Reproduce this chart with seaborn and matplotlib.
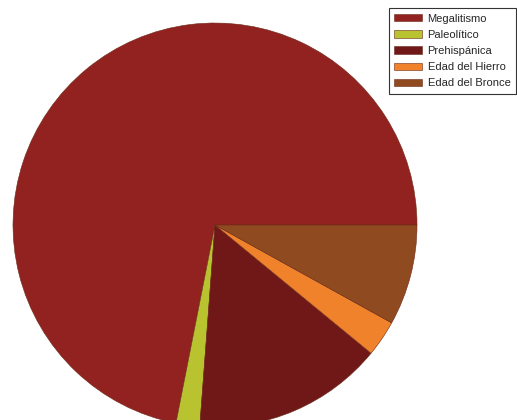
import matplotlib
matplotlib.use("Agg")
import matplotlib.pyplot as plt
import seaborn as sns

categories = ["Megalitismo", "Paleolítico", "Prehispánica", "Edad del Hierro", "Edad del Bronce"]
values = [71.9, 1.9, 15.25, 2.9, 8.05]
colors = ["#922220", "#b9c32f", "#701818", "#f0822c", "#8f4a1f"]

sns.set_style("white")
plt.rcParams['font.family'] = ['Liberation Sans', 'DejaVu Sans']
palette = sns.color_palette(colors)

W, H = 517, 420
fig = plt.figure(figsize=(W / 100, H / 100), dpi=100)
ax = fig.add_axes([0, 0, 1, 1])

cx, cy, R = 215, 225, 202
wedges, _ = ax.pie(values, colors=palette, startangle=0, counterclock=True,
                   wedgeprops=dict(edgecolor="#6b2a18", linewidth=0.4))
ax.set_aspect('auto')
ax.set_xlim(-cx / R, (W - cx) / R)
ax.set_ylim(-(H - cy) / R, cy / R)
ax.axis('off')

leg = fig.legend(wedges, categories, loc="upper right",
                 bbox_to_anchor=(516 / W, 1 - 8 / H),
                 fontsize=8, frameon=True, fancybox=False,
                 edgecolor="black", handlelength=2.5, handleheight=0.65,
                 labelspacing=0.56, handletextpad=0.5, borderpad=0.5,
                 borderaxespad=0)
leg.get_frame().set_linewidth(0.8)

fig.savefig("out.png", dpi=100, facecolor="white")
